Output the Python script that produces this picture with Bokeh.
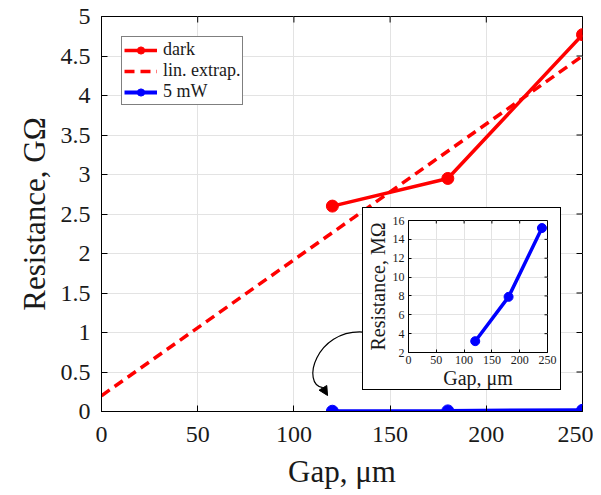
import math
from bokeh.plotting import figure
from bokeh.models import (Legend, LegendItem, Range1d, FixedTicker, Arrow, NormalHead)
from bokeh.embed import file_html
from bokeh.resources import INLINE

# ---------------- data ----------------
gap_dark = [120, 180, 250]
res_dark = [2.60, 2.95, 4.77]          # GOhm

gap_extrap = [0, 250]
res_extrap = [0.20, 4.50]              # GOhm

gap_5mw = [120, 180, 250]
res_5mw_M = [3.2, 7.9, 15.2]           # MOhm
res_5mw = [v / 1000.0 for v in res_5mw_M]  # GOhm

inset_gap = [120, 180, 240]
inset_res = [3.2, 7.9, 15.2]           # MOhm

x_ticks = [0, 50, 100, 150, 200, 250]
y_ticks = [0, 0.5, 1, 1.5, 2, 2.5, 3, 3.5, 4, 4.5, 5]
y_tick_labels = ["0", "0.5", "1", "1.5", "2", "2.5", "3", "3.5", "4", "4.5", "5"]
inset_y_ticks = [2, 4, 6, 8, 10, 12, 14, 16]

X_MIN, X_MAX = 0, 250
Y_MIN, Y_MAX = 0, 5
IY_MIN, IY_MAX = 2, 16

# annotation arrow (data coords of main axes)
arrow_start = (135.7, 1.006)
arrow_c0 = (111.4, 1.035)
arrow_c1 = (103.6, 0.341)
arrow_mid = (115.0, 0.303)
arrow_tip = (117.5, 0.202)

FONT = "Liberation Serif"
TXT = "#1a1a1a"
GRID = "#e3e3e3"


def style_axes(fig, tick_font, label_font, tick_len):
    for ax in (fig.xaxis[0], fig.yaxis[0]):
        ax.major_tick_in = tick_len
        ax.major_tick_out = 0
        ax.minor_tick_in = 0
        ax.minor_tick_out = 0
        ax.axis_line_color = "black"
        ax.major_tick_line_color = "black"
        ax.major_label_text_font = FONT
        ax.major_label_text_font_size = tick_font
        ax.major_label_text_color = TXT
        ax.axis_label_text_font = FONT
        ax.axis_label_text_font_size = label_font
        ax.axis_label_text_font_style = "normal"
        ax.axis_label_text_color = TXT


def box_ticks(fig, xt, yt, xmax, ymax, tick_len):
    # inward ticks along the right and top edges of the frame
    fig.ray(x=[xmax] * len(yt), y=yt, length=tick_len, length_units="screen",
            angle=math.pi, line_color="black", line_width=1)
    fig.ray(x=xt, y=[ymax] * len(xt), length=tick_len, length_units="screen",
            angle=-math.pi / 2, line_color="black", line_width=1)


# ---------------- main figure ----------------
p = figure(width=593, height=491, output_backend="svg", toolbar_location=None,
           x_range=Range1d(X_MIN, X_MAX), y_range=Range1d(Y_MIN, Y_MAX),
           min_border_left=101, min_border_right=11, min_border_top=16,
           min_border_bottom=75)
p.outline_line_color = "black"
p.outline_line_width = 1
p.background_fill_color = "white"
p.border_fill_color = "white"
style_axes(p, "24px", "31px", 6)

p.xaxis.ticker = FixedTicker(ticks=x_ticks)
p.yaxis.ticker = FixedTicker(ticks=y_ticks)
p.yaxis.major_label_overrides = {t: l for t, l in zip(y_ticks, y_tick_labels)}
p.xaxis.axis_label = "Gap, μm"
p.yaxis.axis_label = "Resistance, GΩ"
p.xaxis.major_label_standoff = 15
p.yaxis.major_label_standoff = 11
p.xaxis.axis_label_standoff = 9
p.yaxis.axis_label_standoff = 6

p.xgrid.ticker = FixedTicker(ticks=x_ticks)
p.ygrid.ticker = FixedTicker(ticks=y_ticks)
p.grid.grid_line_color = GRID
p.grid.grid_line_width = 1
box_ticks(p, x_ticks, y_ticks, X_MAX, Y_MAX, 6)

l_ext = p.line(gap_extrap, res_extrap, line_color="#ff0000", line_width=3.5,
               line_dash="10 6")
l_dark = p.line(gap_dark, res_dark, line_color="#ff0000", line_width=3.5)
s_dark = p.scatter(gap_dark, res_dark, size=12, fill_color="#ff0000",
                   line_color="#ff0000")
l_blue = p.line(gap_5mw, res_5mw, line_color="#0000ff", line_width=4)
s_blue = p.scatter(gap_5mw, res_5mw, size=12, fill_color="#0000ff",
                   line_color="#0000ff")

legend = Legend(items=[LegendItem(label="dark", renderers=[l_dark, s_dark]),
                       LegendItem(label="lin. extrap.", renderers=[l_ext]),
                       LegendItem(label="5 mW", renderers=[l_blue, s_blue])],
                location="top_left", margin=20, padding=2, spacing=0,
                glyph_width=33, glyph_height=18, label_height=18,
                label_standoff=6, label_text_font=FONT,
                label_text_font_size="18px", label_text_color=TXT,
                label_text_line_height=1.0,
                border_line_color="black", border_line_width=1,
                background_fill_color="white", background_fill_alpha=1)
p.add_layout(legend)

# curved arrow
p.bezier(x0=[arrow_start[0]], y0=[arrow_start[1]], x1=[arrow_mid[0]], y1=[arrow_mid[1]],
         cx0=[arrow_c0[0]], cy0=[arrow_c0[1]], cx1=[arrow_c1[0]], cy1=[arrow_c1[1]],
         line_color="black", line_width=1.2)
p.add_layout(Arrow(end=NormalHead(size=9, fill_color="black", line_color="black",
                                  line_width=1),
                   x_start=arrow_mid[0], y_start=arrow_mid[1],
                   x_end=arrow_tip[0], y_end=arrow_tip[1],
                   line_color="black", line_width=1.2))

p.styles = {"position": "absolute", "left": "0px", "top": "0px"}

# ---------------- inset ----------------
ins = figure(width=199, height=183, output_backend="svg", toolbar_location=None,
             x_range=Range1d(X_MIN, X_MAX), y_range=Range1d(IY_MIN, IY_MAX),
             min_border_left=41, min_border_right=15, min_border_top=12,
             min_border_bottom=38)
ins.outline_line_color = "black"
ins.background_fill_color = "white"
ins.border_fill_color = "white"
style_axes(ins, "12px", "20px", 3)
ins.xaxis.ticker = FixedTicker(ticks=x_ticks)
ins.yaxis.ticker = FixedTicker(ticks=inset_y_ticks)
ins.xgrid.ticker = FixedTicker(ticks=x_ticks)
ins.ygrid.ticker = FixedTicker(ticks=inset_y_ticks)
ins.grid.grid_line_color = GRID
ins.xaxis.axis_label = "Gap, μm"
ins.yaxis.axis_label = "Resistance, MΩ"
ins.xaxis.major_label_standoff = 3
ins.yaxis.major_label_standoff = 4
ins.xaxis.axis_label_standoff = 0
ins.yaxis.axis_label_standoff = 1
box_ticks(ins, x_ticks, inset_y_ticks, X_MAX, IY_MAX, 3)

ins.line(inset_gap, inset_res, line_color="#0000ff", line_width=3.5)
ins.scatter(inset_gap, inset_res, size=9, fill_color="#0000ff", line_color="#0000ff")

ins.styles = {"position": "absolute", "left": "362px", "top": "207px",
              "border": "1px solid black", "background-color": "white"}

open("out.html", "w").write(file_html([p, ins], INLINE))
